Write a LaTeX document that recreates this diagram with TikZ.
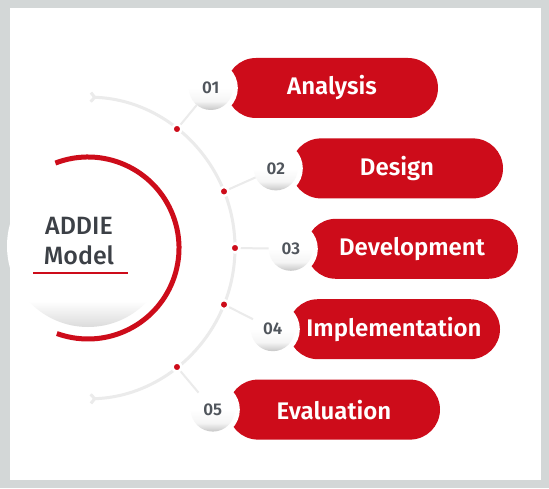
\documentclass[tikz,border=0pt]{standalone}
\usepackage{fontspec}
\setmainfont{Fira Sans}[BoldFont={Fira Sans SemiBold}]
\newfontfamily\titlefont{Fira Sans Medium}
\usepackage{tikz}
\usetikzlibrary{shapes.geometric,arrows.meta,positioning}

\definecolor{addiered}{RGB}{205,12,26}
\definecolor{framegrey}{RGB}{211,215,215}
\definecolor{titlegrey}{RGB}{60,64,70}
\definecolor{numgrey}{RGB}{80,85,92}

\pgfdeclareverticalshading{ballshade}{100bp}{color(0bp)=(black!22); color(25bp)=(black!22); color(35bp)=(black!4); color(50bp)=(white); color(100bp)=(white)}
\pgfdeclareverticalshading{discshade}{100bp}{color(0bp)=(black!14); color(25bp)=(black!14); color(33bp)=(white); color(100bp)=(white)}

\begin{document}
\begin{tikzpicture}[x=1pt,y=1pt]

      \tikzstyle{pill}=[rectangle,rounded corners=30pt,
        minimum width=212pt,minimum height=60pt,
        text centered,fill=addiered,text=white,
        font=\fontsize{24}{28}\selectfont\bfseries]
      \tikzstyle{numball}=[circle,minimum size=44pt,inner sep=0pt,
        shading=ballshade,text=numgrey,
        preaction={fill=white,draw=white,line width=10pt},
        font=\fontsize{17}{20}\selectfont\bfseries]
      \tikzstyle{dot}=[circle,minimum size=9pt,inner sep=0pt,
        fill=addiered,draw=white,line width=2.5pt]
      \tikzstyle{track}=[draw=black!8,line width=3pt]
      \tikzstyle{link}=[draw=black!8,line width=2pt]

      \useasboundingbox (0,0) rectangle (549,488);
      \fill[framegrey] (0,0) rectangle (549,488);
      \fill[white] (10,8) rectangle (541,480);

      % big disc
      \node(disc)[circle,minimum size=162pt,shading=discshade] at (88,242){};
      \draw[addiered,line width=5pt]
      ([shift={(111:91)}]88,240) arc (111:-110:91);
      \node(title)[align=center,text=titlegrey,
        font=\fontsize{25}{30}\selectfont\titlefont] at (79,247){ADDIE\\Model};
      \draw[addiered,line width=2pt] (33,215) -- (128,215);

      % track
      \draw[track,{Straight Barb[reversed,length=4pt,width=9pt]}-{Straight Barb[reversed,length=4pt,width=9pt]}]
      ([shift={(88:151)}]84,240) arc (88:-88:151);

      \node(Analysis)[pill] at (332,400){Analysis};
      \node(Design)[pill,below=20pt of Analysis,
        xshift=65pt]{Design};
      \node(Development)[pill,below=20pt of Design,
        xshift=15pt]{Development};
      \node(Implementation)[pill,below=20pt of Development,
        xshift=-18pt]{Implementation};
      \node(Evaluation)[pill,below=20pt of Implementation,
        xshift=-60pt]{Evaluation};

      \node(N1)[numball] at ([xshift=-15pt]Analysis.west){01};
      \node(N2)[numball] at ([xshift=-15pt]Design.west){02};
      \node(N3)[numball] at ([xshift=-15pt]Development.west){03};
      \node(N4)[numball] at ([xshift=-15pt]Implementation.west){04};
      \node(N5)[numball] at ([xshift=-15pt]Evaluation.west){05};

      \foreach \ang/\name in {52/d1,22/d2,0/d3,-22/d4,-52/d5}
        \node(\name)[dot] at ([shift={(\ang:151)}]84,240){};

      \foreach \i in {1,...,5}
        \draw[link] (d\i) -- (N\i);

    \end{tikzpicture}
\end{document}
